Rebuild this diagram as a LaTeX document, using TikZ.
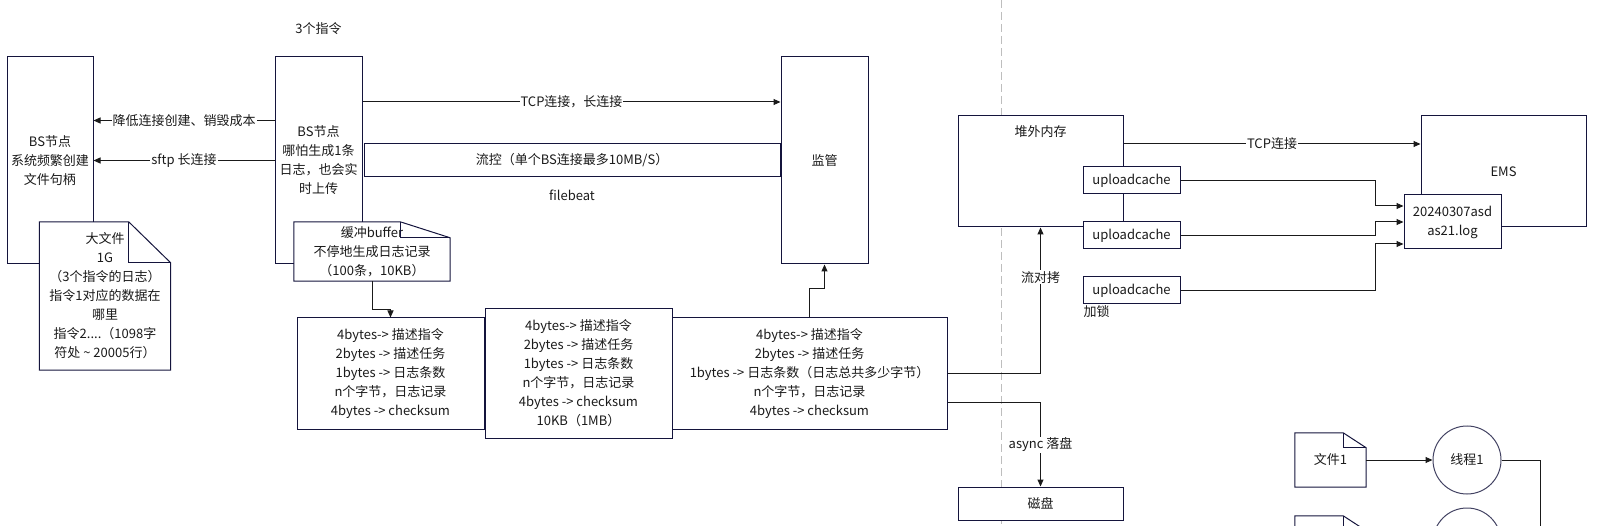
\documentclass[tikz,border=0pt]{standalone}
\usepackage{fontspec}
\setmainfont{Noto Sans CJK SC}
\usetikzlibrary{positioning,arrows.meta}

\definecolor{boxline}{RGB}{20,20,60}
\definecolor{ink}{RGB}{26,26,26}
\definecolor{sepline}{RGB}{190,190,190}

% outline of a note with a folded corner: node, fold width, fold height
\newcommand{\foldnote}[3]{%
  \draw[wire, draw=boxline] (#1.north west) -- ([xshift=-#2]#1.north east) -- ([yshift=-#3]#1.north east)
    -- (#1.south east) -- (#1.south west) -- cycle;
  \draw[wire, draw=boxline] ([xshift=-#2]#1.north east) |- ([yshift=-#3]#1.north east);
}

\begin{document}
\begin{tikzpicture}[x=1pt,y=-1pt,
  every node/.style={font=\fontsize{13}{19}\selectfont, text=ink},
  wire/.style={draw=ink, line width=1pt},
  box/.style={draw=boxline, line width=1pt, fill=white, align=center, inner sep=2pt},
  notebox/.style={fill=white, align=center, inner sep=2pt},
  arr/.style={wire, -{Triangle[length=7pt,width=6pt]}},
  lbl/.style={fill=white, inner sep=1pt},
]

\useasboundingbox (0,0) rectangle (1601,526);
\clip (0,0) rectangle (1601,526);

\draw[sepline, line width=1pt, dash pattern=on 8pt off 4pt] (1001,0) -- (1001,526);

% left part
\node[box, minimum width=86pt, minimum height=207pt] (bs1) at (50,160.5) {BS节点\\系统频繁创建\\文件句柄};
\node[notebox, minimum width=131pt, minimum height=148pt] (bigfile) at (105,296)
  {大文件\\1G\\（3个指令的日志）\\指令1对应的数据在\\哪里\\指令2....（1098字\\符处 \textasciitilde{} 20005行）};
\foldnote{bigfile}{42pt}{41pt}

\node[box, minimum width=87pt, minimum height=207pt] (bs2) at (318.5,160.5) {BS节点\\哪怕生成1条\\日志，也会实\\时上传};
\node[above=18pt of bs2] (cmds) {3个指令};
\node[notebox, minimum width=156pt, minimum height=59pt] (buffer) at (372,251.5) {缓冲buffer\\不停地生成日志记录\\（100条，10KB）};
\foldnote{buffer}{50pt}{16pt}

\node[box, minimum width=87pt, minimum height=207pt] (watch) at (824.5,160.5) {监管};
\node[box, left=0pt of watch, minimum width=416pt, minimum height=33pt] (flow) {流控（单个BS连接最多10MB/S）};
\node[below=9pt of flow] (filebeat) {filebeat};

% record layout
\node[box, minimum width=187pt, minimum height=111pt] (rec1) at (390.5,373.5)
  {4bytes-> 描述指令\\2bytes -> 描述任务\\1bytes -> 日志条数\\n个字节，日志记录\\4bytes -> checksum};
\node[box, minimum width=275pt, minimum height=111pt] (rec3) at (809.5,373.5)
  {4bytes-> 描述指令\\2bytes -> 描述任务\\1bytes -> 日志条数（日志总共多少字节）\\n个字节，日志记录\\4bytes -> checksum};
\node[box, minimum width=187pt, minimum height=129pt] (rec2) at (578.5,373.5)
  {4bytes-> 描述指令\\2bytes -> 描述任务\\1bytes -> 日志条数\\n个字节，日志记录\\4bytes -> checksum\\10KB（1MB）};

% right part
\node[box, minimum width=165pt, minimum height=111pt] (heap) at (1040.5,171.5) {};
\node[below=7pt of heap.north] (heaptitle) {堆外内存};
\node[box, minimum width=165pt, minimum height=33pt] (disk) at (1040.5,503.5) {磁盘};
\node[box, minimum width=165pt, minimum height=111pt] (ems) at (1503.5,171.5) {EMS};
\node[box, minimum width=97pt, minimum height=54pt] (logfile) at (1452.5,222) {20240307asd\\as21.log};
\foreach \i/\y in {1/180.5,2/235.5,3/290.5}
  \node[box, minimum width=97pt, minimum height=27pt] (cache\i) at (1131.5,\y) {uploadcache};
\node[anchor=north west, inner sep=1pt] (lock) at (cache3.south west) {加锁};

\node[notebox, minimum width=71pt, minimum height=54pt] (file1) at (1330.5,460) {文件1};
\foldnote{file1}{23pt}{15pt}
\node[circle, draw=boxline!80, line width=1pt, minimum size=68pt] (thread1) at (1467,460) {线程1};
\node[notebox, minimum width=71pt, minimum height=54pt] (file2) at (1330.5,543) {};
\foldnote{file2}{23pt}{15pt}
\node[circle, draw=boxline!80, line width=1pt, minimum size=68pt] (thread2) at (1467,542) {};

% connectors
\draw[arr] ([yshift=40pt]bs2.west) -- ([yshift=40pt]bs1.east) node[lbl, midway] {降低连接创建、销毁成本};
\draw[arr] (bs2.west) -- (bs1.east) node[lbl, midway] {sftp 长连接};
\draw[arr] ([yshift=58.5pt]bs2.east) -- ([yshift=58.5pt]watch.west) node[lbl, midway] {TCP连接，长连接};
\draw[arr] (buffer.south) -- ++(0,28) -| (rec1.north);
\draw[arr] (rec3.north) -- ++(0,-29) -| (watch.south);
\draw[arr] (rec3.east) -| node[lbl, pos=0.83] {流对拷} (heap.south);
\draw[arr] ([yshift=-29.5pt]rec3.east) -| node[lbl, pos=0.75] {async 落盘} (disk.north);
\draw[arr] ([yshift=27.5pt]heap.east) -- ([yshift=27.5pt]ems.west) node[lbl, midway] {TCP连接};
\draw[arr] (cache1.east) -| ([xshift=-28pt,yshift=16pt]logfile.west) -- ([yshift=16pt]logfile.west);
\draw[arr] (cache2.east) -| ([xshift=-28pt]logfile.west) -- (logfile.west);
\draw[arr] (cache3.east) -| ([xshift=-28pt,yshift=-22pt]logfile.west) -- ([yshift=-22pt]logfile.west);
\draw[arr] (file1.east) -- (thread1.west);
\draw[wire] (thread1.east) -- ++(39,0) -- ++(0,80);

\end{tikzpicture}
\end{document}
